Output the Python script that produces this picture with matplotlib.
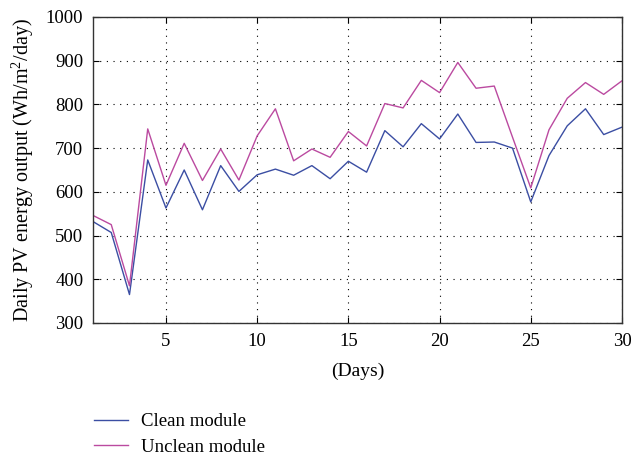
import matplotlib.pyplot as plt
from matplotlib.lines import Line2D

plt.rcParams['font.family'] = ['Liberation Serif', 'DejaVu Serif']
plt.rcParams['mathtext.fontset'] = 'custom'
plt.rcParams['mathtext.rm'] = 'Liberation Serif'

# daily PV output
days = list(range(1, 31))
clean = [532, 507, 365, 673, 563, 650, 559, 660, 601, 639,
         652, 638, 660, 630, 670, 645, 740, 703, 756, 721,
         778, 713, 714, 700, 577, 683, 751, 790, 731, 748]
unclean = [546, 525, 385, 744, 615, 711, 626, 698, 627, 728,
           790, 671, 698, 679, 738, 705, 802, 792, 855, 827,
           896, 837, 842, 725, 609, 742, 814, 850, 823, 854]

fig = plt.figure(figsize=(6.34, 4.58), dpi=100)
ax = fig.add_axes([0.1467, 0.2948, 0.8343, 0.6681])

ax.plot(days, clean, color='#3b4ea3', lw=1.0, label='Clean module')
ax.plot(days, unclean, color='#bb4aa0', lw=1.0, label='Unclean module')

ax.set_xlim(1, 30)
ax.set_ylim(300, 1000)
ax.set_xticks([5, 10, 15, 20, 25, 30])
ax.set_yticks(range(300, 1001, 100))
ax.grid(True, color='black', linestyle=(0, (1, 5)), lw=0.8)
ax.tick_params(direction='in', top=True, right=True, labelsize=13.5, length=4, width=0.8, pad=7)
for s in ax.spines.values():
    s.set_linewidth(1.0)
    s.set_color('#333333')

ax.set_xlabel('(Days)', fontsize=14, labelpad=9)
ax.set_ylabel('Daily PV energy output (Wh/m$^2$/day)', fontsize=14.5, labelpad=7)

handles = [Line2D([], [], color='#3b4ea3', lw=1.0),
           Line2D([], [], color='#bb4aa0', lw=1.0)]
fig.legend(handles, ['Clean module', 'Unclean module'], loc='lower left',
           bbox_to_anchor=(0.122, -0.032), frameon=False, fontsize=13.5,
           handlelength=1.8, handletextpad=0.7, labelspacing=0.45)

fig.savefig('out.png', dpi=100)
